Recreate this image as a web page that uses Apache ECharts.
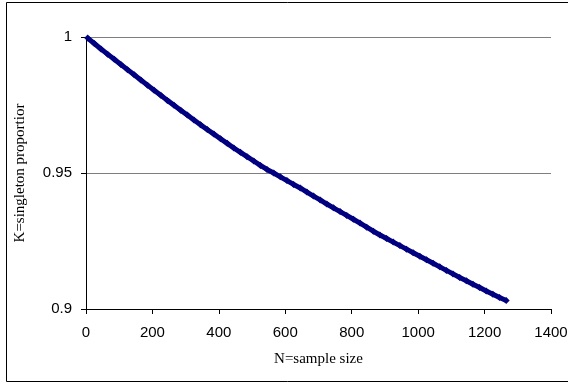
<!DOCTYPE html>
<html>
<head>
<meta charset="utf-8">
<script src="https://cdn.jsdelivr.net/npm/echarts@6/dist/echarts.min.js"></script>
<style>
  html, body { margin: 0; padding: 0; background: #fff; }
  #chart { width: 568px; height: 383px; }
</style>
</head>
<body>
<div id="chart"></div>
<script>
// sample sizes (N) and singleton proportion (K)
const sampleN = [
  5, 25, 45, 65, 85, 105, 125, 145, 165, 185, 205, 225, 245, 265, 285, 305,
  325, 345, 365, 385, 405, 425, 445, 465, 485, 505, 525, 545, 565, 585, 605, 625,
  645, 665, 685, 705, 725, 745, 765, 785, 805, 825, 845, 865, 885, 905, 925, 945,
  965, 985, 1005, 1025, 1045, 1065, 1085, 1105, 1125, 1145, 1165, 1185, 1205, 1225, 1245, 1265
];
const singletonK = [
  0.9996, 0.9976, 0.9956, 0.9937, 0.9918, 0.9899, 0.9880, 0.9861, 0.9842, 0.9823, 0.9804, 0.9786, 0.9767, 0.9749, 0.9731, 0.9713,
  0.9695, 0.9677, 0.9660, 0.9643, 0.9626, 0.9609, 0.9592, 0.9576, 0.9560, 0.9544, 0.9528, 0.9513, 0.9500, 0.9486, 0.9472, 0.9458,
  0.9445, 0.9430, 0.9415, 0.9401, 0.9386, 0.9372, 0.9358, 0.9344, 0.9330, 0.9316, 0.9301, 0.9286, 0.9272, 0.9259, 0.9246, 0.9233,
  0.9220, 0.9207, 0.9194, 0.9181, 0.9168, 0.9155, 0.9142, 0.9129, 0.9116, 0.9104, 0.9091, 0.9079, 0.9066, 0.9054, 0.9042, 0.9031
];
const yTicks = [0.9, 0.95, 1];

const navy = "#000080";
const sans = "'Liberation Sans', Arial, sans-serif";
const serif = "'Liberation Serif', 'Times New Roman', serif";

const chart = echarts.init(document.getElementById("chart"), null, { renderer: "canvas" });

chart.setOption({
  animation: false,
  backgroundColor: "#fff",
  grid: { left: 86, top: 37, right: 17, bottom: 74, containLabel: false, outerBoundsMode: "none" },
  graphic: [
    {
      type: "rect",
      shape: { x: 6.5, y: 2.5, width: 575, height: 379 },
      style: { fill: "none", stroke: "#000", lineWidth: 1 },
      silent: true
    }
  ],
  xAxis: {
    type: "value",
    min: 0,
    max: 1400,
    interval: 200,
    name: "N=sample size",
    nameLocation: "middle",
    nameGap: 43,
    nameTextStyle: { fontFamily: serif, fontSize: 15, color: "#000" },
    axisLine: { show: true, onZero: false, lineStyle: { color: "#000", width: 1 } },
    axisTick: { show: true, inside: false, length: 5, lineStyle: { color: "#000" } },
    axisLabel: { fontFamily: sans, fontSize: 15, color: "#000", margin: 16, formatter: (v) => String(v) },
    splitLine: { show: false }
  },
  yAxis: {
    type: "value",
    min: 0.9,
    max: 1,
    interval: 0.05,
    name: "K=singleton proportior",
    nameLocation: "middle",
    nameGap: 58,
    nameTextStyle: { fontFamily: serif, fontSize: 15, color: "#000" },
    axisLine: { show: true, lineStyle: { color: "#000", width: 1 } },
    axisTick: { show: true, inside: false, length: 5, lineStyle: { color: "#000" } },
    axisLabel: {
      fontFamily: sans, fontSize: 15, color: "#000", margin: 14,
      formatter: (v) => {
        const t = yTicks.find((y) => Math.abs(y - v) < 1e-9);
        return t === undefined ? "" : String(t);
      }
    },
    splitLine: { show: true, lineStyle: { color: "#7f7f7f", width: 1.2 } }
  },
  series: [
    {
      type: "line",
      data: sampleN.map((n, i) => [n, singletonK[i]]),
      symbol: "diamond",
      symbolSize: 7,
      showSymbol: true,
      itemStyle: { color: navy },
      lineStyle: { color: navy, width: 5 },
      clip: false
    }
  ]
});
</script>
</body>
</html>
